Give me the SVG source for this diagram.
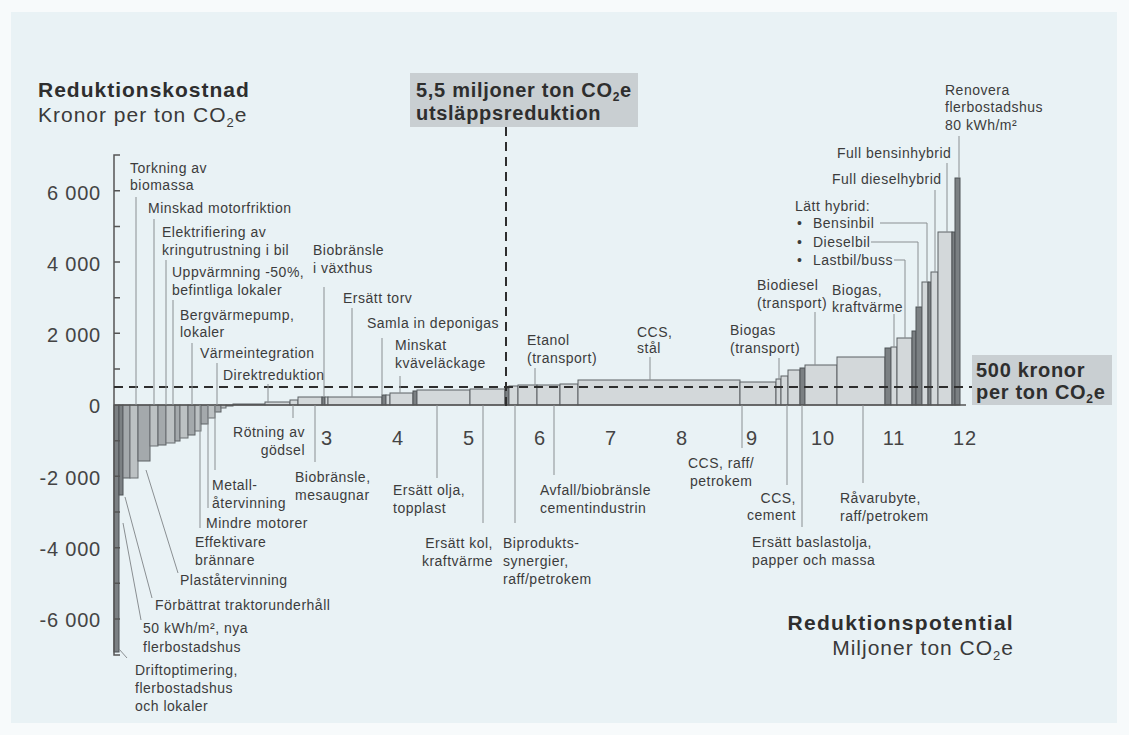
<svg xmlns="http://www.w3.org/2000/svg" width="1129" height="735" viewBox="0 0 1129 735">
<style>
.t{font-family:"Liberation Sans",Arial,sans-serif;font-size:14px;letter-spacing:0.5px;fill:#3c3c3c}
.ax{font-family:"Liberation Sans",Arial,sans-serif;font-size:20px;letter-spacing:0.8px;fill:#444}
.b{font-family:"Liberation Sans",Arial,sans-serif;font-weight:bold;fill:#2e2e2e}
.r{font-family:"Liberation Sans",Arial,sans-serif;fill:#3a3a3a}
.e{text-anchor:end}
.m{text-anchor:middle}
.bl{fill:#d3d8da;stroke:#5c6164;stroke-width:1}
.bd{fill:#7b8083;stroke:#4e5356;stroke-width:1}
.bm{fill:#a4a9ac;stroke:#5c6164;stroke-width:1}
.bn{fill:#bcc1c3;stroke:#6a6f72;stroke-width:1}
.ld{stroke:#8a8f92;stroke-width:1;fill:none}
.dash{stroke:#2e2e2e;stroke-width:2;stroke-dasharray:9,6;fill:none}
.axis{stroke:#555;stroke-width:1.5;fill:none}
</style>
<rect x="0" y="0" width="1129" height="735" fill="#f7fafb"/>
<rect x="11" y="12" width="1106" height="711" fill="#e9f2f5"/>

<g id="bars">
<rect class="bd" x="114" y="405" width="5" height="247"/>
<rect class="bd" x="119" y="405" width="4" height="90"/>
<rect class="bm" x="123" y="405" width="7" height="73"/>
<rect class="bn" x="130" y="405" width="8" height="73"/>
<rect class="bm" x="138" y="405" width="12" height="56"/>
<rect class="bn" x="150" y="405" width="8" height="41"/>
<rect class="bm" x="158" y="405" width="8" height="40"/>
<rect class="bn" x="166" y="405" width="9" height="38"/>
<rect class="bm" x="175" y="405" width="5" height="36"/>
<rect class="bn" x="180" y="405" width="8" height="33"/>
<rect class="bm" x="188" y="405" width="7" height="30"/>
<rect class="bn" x="195" y="405" width="6" height="26"/>
<rect class="bm" x="201" y="405" width="7" height="19"/>
<rect class="bn" x="208" y="405" width="7" height="13"/>
<rect class="bm" x="215" y="405" width="6" height="7"/>
<rect class="bn" x="221" y="405" width="5" height="3"/>
<rect class="bm" x="226" y="405" width="7" height="1"/>
<rect class="bl" x="233" y="404" width="32" height="1"/>
<rect class="bl" x="265" y="402" width="25" height="3"/>
<rect class="bl" x="290" y="400" width="8" height="5"/>
<rect class="bl" x="298" y="397" width="24" height="8"/>
<rect class="bd" x="322" y="397" width="3" height="8"/>
<rect class="bl" x="325" y="397" width="3" height="8"/>
<rect class="bl" x="328" y="397" width="54" height="8"/>
<rect class="bd" x="382" y="395" width="4" height="10"/>
<rect class="bl" x="386" y="395" width="4" height="10"/>
<rect class="bl" x="390" y="393" width="23" height="12"/>
<rect class="bd" x="413" y="391" width="4" height="14"/>
<rect class="bl" x="417" y="390" width="53" height="15"/>
<rect class="bl" x="470" y="389" width="35" height="16"/>
<rect class="bd" x="505" y="388" width="4" height="17"/>
<rect class="bl" x="509" y="386" width="9" height="19"/>
<rect class="bl" x="518" y="385" width="19" height="20"/>
<rect class="bl" x="537" y="385" width="23" height="20"/>
<rect class="bl" x="560" y="384" width="18" height="21"/>
<rect class="bl" x="578" y="380" width="162" height="25"/>
<rect class="bl" x="740" y="382" width="36" height="23"/>
<rect class="bl" x="776" y="379" width="5" height="26"/>
<rect class="bl" x="781" y="376" width="7" height="29"/>
<rect class="bl" x="788" y="370" width="12" height="35"/>
<rect class="bd" x="800" y="368" width="5" height="37"/>
<rect class="bl" x="805" y="365" width="32" height="40"/>
<rect class="bl" x="837" y="357" width="48" height="48"/>
<rect class="bd" x="885" y="348" width="6" height="57"/>
<rect class="bl" x="891" y="347" width="6" height="58"/>
<rect class="bl" x="897" y="338" width="15" height="67"/>
<rect class="bd" x="912" y="331" width="4" height="74"/>
<rect class="bd" x="916" y="307" width="6" height="98"/>
<rect class="bl" x="922" y="282" width="6" height="123"/>
<rect class="bd" x="928" y="282" width="3" height="123"/>
<rect class="bl" x="931" y="272" width="7" height="133"/>
<rect class="bl" x="938" y="232" width="14" height="173"/>
<rect class="bd" x="952" y="232" width="3" height="173"/>
<rect class="bd" x="955" y="178" width="5" height="227"/>
</g>

<g id="axes">
<path class="axis" d="M120,155 H114 V655 H120"/>
<path class="axis" d="M114,405 H966"/>
<path class="axis" d="M114,190.7 h6 M114,226.4 h6 M114,262 h6 M114,297.7 h6 M114,333.3 h6 M114,369 h6 M114,440.7 h6 M114,476.3 h6 M114,512 h6 M114,547.7 h6 M114,583.3 h6 M114,619 h6"/>
<text class="ax e" x="101" y="200">6 000</text>
<text class="ax e" x="101" y="271">4 000</text>
<text class="ax e" x="101" y="342">2 000</text>
<text class="ax e" x="101" y="413">0</text>
<text class="ax e" x="101" y="485">-2 000</text>
<text class="ax e" x="101" y="556">-4 000</text>
<text class="ax e" x="101" y="627">-6 000</text>
<text class="ax m" x="327" y="445">3</text>
<text class="ax m" x="398" y="445">4</text>
<text class="ax m" x="469" y="445">5</text>
<text class="ax m" x="540" y="445">6</text>
<text class="ax m" x="611" y="445">7</text>
<text class="ax m" x="682" y="445">8</text>
<text class="ax m" x="752" y="445">9</text>
<text class="ax m" x="823" y="445">10</text>
<text class="ax m" x="894" y="445">11</text>
<text class="ax m" x="965" y="445">12</text>
</g>

<g id="thresholds">
<path class="dash" d="M114,387 H972"/>
<path class="dash" d="M506,127 V410"/>
</g>

<g id="title-y">
<text class="b" x="38" y="97" font-size="21" letter-spacing="1">Reduktionskostnad</text>
<text class="r" x="38" y="122" font-size="21" letter-spacing="1">Kronor per ton CO<tspan font-size="13" dy="5">2</tspan><tspan dy="-5">e</tspan></text>
</g>
<g id="title-x">
<text class="b e" x="1014" y="630" font-size="21" letter-spacing="1.3">Reduktionspotential</text>
<text class="r e" x="1014" y="655" font-size="21" letter-spacing="1">Miljoner ton CO<tspan font-size="13" dy="5">2</tspan><tspan dy="-5">e</tspan></text>
</g>
<g id="box-55">
<rect x="410" y="73" width="228" height="54" fill="#c9cfd2"/>
<text class="b" x="416" y="97" font-size="20" letter-spacing="0.7">5,5 miljoner ton CO<tspan font-size="12" dy="4">2</tspan><tspan dy="-4">e</tspan></text>
<text class="b" x="416" y="120" font-size="20" letter-spacing="0.7">utsläppsreduktion</text>
</g>
<g id="box-500">
<rect x="972" y="355" width="140" height="50" fill="#c9cfd2"/>
<text class="b" x="976" y="377" font-size="20" letter-spacing="0.7">500 kronor</text>
<text class="b" x="976" y="399" font-size="20" letter-spacing="0.7">per ton CO<tspan font-size="12" dy="4">2</tspan><tspan dy="-4">e</tspan></text>
</g>

<g id="connectors">
<path class="ld" d="M136,197 V405"/>
<path class="ld" d="M154,219 V405"/>
<path class="ld" d="M166,260 V405"/>
<path class="ld" d="M173,300 V405"/>
<path class="ld" d="M192,343 V405"/>
<path class="ld" d="M217,363 V405"/>
<path class="ld" d="M268,384 V403"/>
<path class="ld" d="M324,287 V397"/>
<path class="ld" d="M352,308 V397"/>
<path class="ld" d="M382,338 V395"/>
<path class="ld" d="M400,376 V393"/>
<path class="ld" d="M535,368 V385"/>
<path class="ld" d="M650,357 V380"/>
<path class="ld" d="M779,358 V379"/>
<path class="ld" d="M815,312 V365"/>
<path class="ld" d="M894,314 V347"/>
<path class="ld" d="M880,223 H927 V282"/>
<path class="ld" d="M871,242 H918 V307"/>
<path class="ld" d="M894,260 H905 V338"/>
<path class="ld" d="M935,190 V272"/>
<path class="ld" d="M947,163 V232"/>
<path class="ld" d="M959,136 V178"/>
<path class="ld" d="M293,405 V418"/>
<path class="ld" d="M315,405 V462"/>
<path class="ld" d="M215,405 V470"/>
<path class="ld" d="M208,405 V508"/>
<path class="ld" d="M200,405 V528"/>
<path class="ld" d="M178,573 L146,470"/>
<path class="ld" d="M152,598 L125,497"/>
<path class="ld" d="M141,620 L123,523"/>
<path class="ld" d="M127,658 L119,649"/>
<path class="ld" d="M437,405 V478"/>
<path class="ld" d="M483,405 V523"/>
<path class="ld" d="M515,405 V523"/>
<path class="ld" d="M554,405 V475"/>
<path class="ld" d="M742,405 V448"/>
<path class="ld" d="M787,405 V485"/>
<path class="ld" d="M802,405 V527"/>
<path class="ld" d="M863,405 V483"/>
</g>

<g id="labels-top">
<g id="n-torkning"><text class="t" x="130" y="173">Torkning av</text><text class="t" x="130" y="190">biomassa</text></g>
<g id="n-motorfriktion"><text class="t" x="148" y="213">Minskad motorfriktion</text></g>
<g id="n-elektrifiering"><text class="t" x="162" y="237">Elektrifiering av</text><text class="t" x="162" y="255">kringutrustning i bil</text></g>
<g id="n-uppvarmning"><text class="t" x="172" y="277">Uppvärmning -50%,</text><text class="t" x="172" y="295">befintliga lokaler</text></g>
<g id="n-bergvarme"><text class="t" x="180" y="320">Bergvärmepump,</text><text class="t" x="180" y="337">lokaler</text></g>
<g id="n-varmeintegration"><text class="t" x="200" y="358">Värmeintegration</text></g>
<g id="n-direktreduktion"><text class="t" x="223" y="380">Direktreduktion</text></g>
<g id="n-vaxthus"><text class="t" x="313" y="255">Biobränsle</text><text class="t" x="313" y="273">i växthus</text></g>
<g id="n-torv"><text class="t" x="343" y="303">Ersätt torv</text></g>
<g id="n-deponigas"><text class="t" x="367" y="328">Samla in deponigas</text></g>
<g id="n-kvave"><text class="t" x="395" y="350">Minskat</text><text class="t" x="395" y="368">kväveläckage</text></g>
<g id="n-etanol"><text class="t" x="527" y="345">Etanol</text><text class="t" x="527" y="363">(transport)</text></g>
<g id="n-ccs-stal"><text class="t" x="637" y="337">CCS,</text><text class="t" x="637" y="353">stål</text></g>
<g id="n-biogas-t"><text class="t" x="730" y="335">Biogas</text><text class="t" x="730" y="353">(transport)</text></g>
<g id="n-biodiesel"><text class="t" x="757" y="290">Biodiesel</text><text class="t" x="757" y="308">(transport)</text></g>
<g id="n-biogas-k"><text class="t" x="832" y="295">Biogas,</text><text class="t" x="832" y="312">kraftvärme</text></g>
<g id="n-latt-hybrid"><text class="t" x="795" y="211">Lätt hybrid:</text>
<text class="t" x="797" y="228">•</text><text class="t" x="813" y="228">Bensinbil</text>
<text class="t" x="797" y="247">•</text><text class="t" x="813" y="247">Dieselbil</text>
<text class="t" x="797" y="265">•</text><text class="t" x="813" y="265">Lastbil/buss</text></g>
<g id="n-full-diesel"><text class="t" x="832" y="184">Full dieselhybrid</text></g>
<g id="n-full-bensin"><text class="t" x="837" y="158">Full bensinhybrid</text></g>
<g id="n-renovera"><text class="t" x="945" y="95">Renovera</text><text class="t" x="945" y="112">flerbostadshus</text><text class="t" x="945" y="130">80 kWh/m²</text></g>
</g>

<g id="labels-bottom">
<g id="n-rotning"><text class="t e" x="305" y="437">Rötning av</text><text class="t e" x="305" y="455">gödsel</text></g>
<g id="n-mesaugnar"><text class="t" x="295" y="482">Biobränsle,</text><text class="t" x="295" y="500">mesaugnar</text></g>
<g id="n-olja"><text class="t" x="393" y="495">Ersätt olja,</text><text class="t" x="393" y="513">topplast</text></g>
<g id="n-kol"><text class="t e" x="493" y="548">Ersätt kol,</text><text class="t e" x="493" y="566">kraftvärme</text></g>
<g id="n-biprodukt"><text class="t" x="503" y="548">Biprodukts-</text><text class="t" x="503" y="566">synergier,</text><text class="t" x="503" y="584">raff/petrokem</text></g>
<g id="n-avfall"><text class="t" x="540" y="495">Avfall/biobränsle</text><text class="t" x="540" y="513">cementindustrin</text></g>
<g id="n-ccs-raff"><text class="t" x="688" y="468">CCS, raff/</text><text class="t" x="690" y="486">petrokem</text></g>
<g id="n-ccs-cement"><text class="t e" x="796" y="503">CCS,</text><text class="t e" x="796" y="520">cement</text></g>
<g id="n-baslastolja"><text class="t" x="752" y="547">Ersätt baslastolja,</text><text class="t" x="752" y="565">papper och massa</text></g>
<g id="n-ravarubyte"><text class="t" x="840" y="503">Råvarubyte,</text><text class="t" x="840" y="521">raff/petrokem</text></g>
<g id="n-metall"><text class="t" x="212" y="490">Metall-</text><text class="t" x="212" y="508">återvinning</text></g>
<g id="n-mindre"><text class="t" x="206" y="528">Mindre motorer</text></g>
<g id="n-effektivare"><text class="t" x="195" y="547">Effektivare</text><text class="t" x="195" y="565">brännare</text></g>
<g id="n-plast"><text class="t" x="180" y="585">Plaståtervinning</text></g>
<g id="n-traktor"><text class="t" x="155" y="610">Förbättrat traktorunderhåll</text></g>
<g id="n-50kwh"><text class="t" x="143" y="633">50 kWh/m², nya</text><text class="t" x="143" y="652">flerbostadshus</text></g>
<g id="n-drift"><text class="t" x="135" y="675">Driftoptimering,</text><text class="t" x="135" y="693">flerbostadshus</text><text class="t" x="135" y="711">och lokaler</text></g>
</g>
</svg>
